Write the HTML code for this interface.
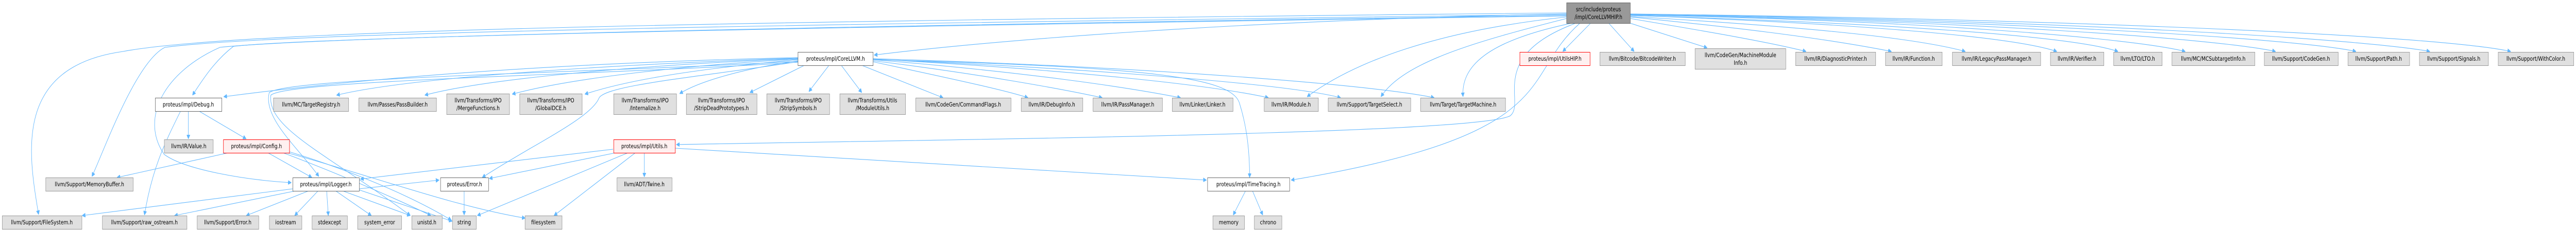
<!DOCTYPE html>
<html><head><meta charset="utf-8"><style>
html,body{margin:0;padding:0;background:#fff;width:100vw;height:100vh;overflow:hidden}
svg{display:block;position:absolute;left:0;top:0;width:100vw;height:100vh}
text{font-family:"DejaVu Sans","Liberation Sans",sans-serif;font-size:11.5px;fill:#000;text-anchor:middle}
.g{fill:#e0e0e0;stroke:#999;stroke-width:1}
.w{fill:#fff;stroke:#666;stroke-width:1}
.r{fill:#fff0f0;stroke:#f00;stroke-width:1}
.k{fill:#999;stroke:#666;stroke-width:1}
path{fill:none;stroke:#63b8ff;stroke-width:1.1}
</style></head><body>
<svg viewBox="0 0 6277 447" preserveAspectRatio="none" xmlns="http://www.w3.org/2000/svg">
<defs><marker id="a" viewBox="0 0 10 10" refX="10" refY="5" markerWidth="8" markerHeight="8" orient="auto" markerUnits="userSpaceOnUse"><path d="M0,0 L10,5 L0,10 z" style="fill:#63b8ff;stroke:#63b8ff"/></marker></defs>
<g marker-end="url(#a)">
<path d="M3817,27 C3000,40 2400,80 2130,107"/>
<path d="M3817,33 C3500,60 3300,120 3185,188"/>
<path d="M3817,36 C3600,80 3420,120 3365,188"/>
<path d="M3830,45 C3620,80 3560,130 3565,188"/>
<path d="M3840,45 C3620,110 3720,200 3680,225 C3600,260 2400,270 1648,281"/>
<path d="M3850,45 C3700,150 3820,260 3146,350"/>
<path d="M3876,45 L3808,100"/>
<path d="M3920,45 L3982,100"/>
<path d="M3972,45 L4160,93"/>
<path d="M3973,36 C4150,60 4300,80 4401,100"/>
<path d="M3973,33 C4250,55 4450,75 4609,100"/>
<path d="M3973,32 C4350,50 4650,70 4789,100"/>
<path d="M3973,30 C4500,45 4900,70 5012,100"/>
<path d="M3973,30 C4600,45 5050,70 5161,100"/>
<path d="M3973,29 C4700,40 5200,75 5325,100"/>
<path d="M3973,29 C4800,40 5400,75 5545,100"/>
<path d="M3973,28 C4900,40 5600,75 5741,100"/>
<path d="M3973,28 C5000,38 5750,75 5921,100"/>
<path d="M3973,27 C5100,38 5950,70 6118,100"/>
<path d="M3817,25 C2000,40 600,55 300,100 C30,130 70,300 94,417"/>
<path d="M3817,28 C2200,45 700,60 402,92 C330,120 250,300 224,343"/>
<path d="M3817,30 C2200,48 800,70 536,92 C400,140 340,230 400,300 C450,330 600,350 710,355"/>
<path d="M3817,31 C2200,50 800,70 569,90 C520,120 490,160 469,185"/>
<path d="M1944,112 C1500,120 1000,140 545,188"/>
<path d="M1944,113 C1500,125 1000,150 820,185"/>
<path d="M1944,114 C1600,125 1200,150 1035,185"/>
<path d="M1944,115 C1700,125 1400,150 1248,183"/>
<path d="M1944,116 C1750,130 1550,150 1425,183"/>
<path d="M1944,118 C1800,135 1700,160 1656,182"/>
<path d="M1960,127 L1827,180"/>
<path d="M2020,127 L1971,178"/>
<path d="M2050,127 L2100,180"/>
<path d="M2100,127 L2298,190"/>
<path d="M2127,120 C2300,150 2450,175 2505,190"/>
<path d="M2127,118 C2400,145 2600,175 2686,190"/>
<path d="M2127,116 C2500,140 2750,170 2877,190"/>
<path d="M2127,115 C2600,135 2950,165 3091,190"/>
<path d="M2127,115 C2700,135 3150,165 3267,190"/>
<path d="M2127,114 C2800,130 3350,165 3495,190"/>
<path d="M2127,116 C2800,130 3000,150 3020,200 C3040,250 3045,300 3045,345"/>
<path d="M1944,120 C1700,150 1480,165 1460,190 C1440,230 1300,280 1175,345"/>
<path d="M1944,119 C1500,140 700,150 656,180 C640,230 730,290 777,343"/>
<path d="M1944,121 C1500,145 700,155 660,185 C650,250 800,300 1000,419"/>
<path d="M1494,290 L878,348"/>
<path d="M1500,297 L1192,347"/>
<path d="M1530,297 L1163,419"/>
<path d="M1548,297 L1350,419"/>
<path d="M1570,297 L1570,344"/>
<path d="M1645,288 L2940,350"/>
<path d="M459,216 L459,270"/>
<path d="M485,216 L600,270"/>
<path d="M440,216 C400,280 370,330 352,418"/>
<path d="M556,297 L285,345"/>
<path d="M653,297 L760,345"/>
<path d="M690,297 C800,330 950,380 1050,419"/>
<path d="M705,295 C850,330 1000,380 1100,428"/>
<path d="M700,297 C900,340 1100,400 1280,424"/>
<path d="M713,367 L200,419"/>
<path d="M720,371 L425,419"/>
<path d="M752,371 L600,419"/>
<path d="M775,371 L718,419"/>
<path d="M796,371 L800,419"/>
<path d="M818,371 L905,419"/>
<path d="M835,371 L1000,419"/>
<path d="M875,369 L1102,430"/>
<path d="M875,367 L1070,350"/>
<path d="M1131,371 L1131,418"/>
<path d="M3035,371 L3005,418"/>
<path d="M3052,371 L3077,418"/>
</g>
<g>
<rect class="k" x="3817.5" y="5.5" width="155" height="40"/><text x="3895" y="22">src/include/proteus</text><text x="3895" y="37">/impl/CoreLLVMHIP.h</text>
<rect class="w" x="1944.5" y="101.5" width="183" height="26"/><text x="2036" y="118">proteus/impl/CoreLLVM.h</text>
<rect class="r" x="3703.5" y="101.5" width="171" height="26"/><text x="3789" y="118">proteus/impl/UtilsHIP.h</text>
<rect class="g" x="3898.5" y="101.5" width="208" height="26"/><text x="4002" y="118">llvm/Bitcode/BitcodeWriter.h</text>
<rect class="g" x="4130.5" y="94.5" width="221" height="40"/><text x="4241" y="111">llvm/CodeGen/MachineModule</text><text x="4241" y="126">Info.h</text>
<rect class="g" x="4375.5" y="101.5" width="195" height="26"/><text x="4473" y="118">llvm/IR/DiagnosticPrinter.h</text>
<rect class="g" x="4594.5" y="101.5" width="138" height="26"/><text x="4663" y="118">llvm/IR/Function.h</text>
<rect class="g" x="4757.5" y="101.5" width="215" height="26"/><text x="4865" y="118">llvm/IR/LegacyPassManager.h</text>
<rect class="g" x="4996.5" y="101.5" width="130" height="26"/><text x="5061" y="118">llvm/IR/Verifier.h</text>
<rect class="g" x="5150.5" y="101.5" width="118" height="26"/><text x="5209" y="118">llvm/LTO/LTO.h</text>
<rect class="g" x="5292.5" y="101.5" width="202" height="26"/><text x="5393" y="118">llvm/MC/MCSubtargetInfo.h</text>
<rect class="g" x="5517.5" y="101.5" width="180" height="26"/><text x="5607" y="118">llvm/Support/CodeGen.h</text>
<rect class="g" x="5721.5" y="101.5" width="150" height="26"/><text x="5796" y="118">llvm/Support/Path.h</text>
<rect class="g" x="5895.5" y="101.5" width="168" height="26"/><text x="5979" y="118">llvm/Support/Signals.h</text>
<rect class="g" x="6087.5" y="101.5" width="184" height="26"/><text x="6179" y="118">llvm/Support/WithColor.h</text>

<rect class="w" x="378.5" y="190.5" width="162" height="26"/><text x="459" y="207">proteus/impl/Debug.h</text>
<rect class="g" x="666.5" y="190.5" width="183" height="26"/><text x="758" y="207">llvm/MC/TargetRegistry.h</text>
<rect class="g" x="874.5" y="190.5" width="189" height="26"/><text x="969" y="207">llvm/Passes/PassBuilder.h</text>
<rect class="g" x="1088.5" y="182.5" width="153" height="40"/><text x="1165" y="199">llvm/Transforms/IPO</text><text x="1165" y="214">/MergeFunctions.h</text>
<rect class="g" x="1266.5" y="182.5" width="152" height="40"/><text x="1342" y="199">llvm/Transforms/IPO</text><text x="1342" y="214">/GlobalDCE.h</text>
<rect class="g" x="1495.5" y="182.5" width="153" height="40"/><text x="1572" y="199">llvm/Transforms/IPO</text><text x="1572" y="214">/Internalize.h</text>
<rect class="g" x="1672.5" y="182.5" width="172" height="40"/><text x="1758" y="199">llvm/Transforms/IPO</text><text x="1758" y="214">/StripDeadPrototypes.h</text>
<rect class="g" x="1868.5" y="182.5" width="153" height="40"/><text x="1945" y="199">llvm/Transforms/IPO</text><text x="1945" y="214">/StripSymbols.h</text>
<rect class="g" x="2046.5" y="182.5" width="160" height="40"/><text x="2126" y="199">llvm/Transforms/Utils</text><text x="2126" y="214">/ModuleUtils.h</text>
<rect class="g" x="2231.5" y="190.5" width="232" height="26"/><text x="2347" y="207">llvm/CodeGen/CommandFlags.h</text>
<rect class="g" x="2488.5" y="190.5" width="150" height="26"/><text x="2563" y="207">llvm/IR/DebugInfo.h</text>
<rect class="g" x="2663.5" y="190.5" width="169" height="26"/><text x="2748" y="207">llvm/IR/PassManager.h</text>
<rect class="g" x="2856.5" y="190.5" width="148" height="26"/><text x="2930" y="207">llvm/Linker/Linker.h</text>
<rect class="g" x="3080.5" y="190.5" width="132" height="26"/><text x="3146" y="207">llvm/IR/Module.h</text>
<rect class="g" x="3236.5" y="190.5" width="201" height="26"/><text x="3337" y="207">llvm/Support/TargetSelect.h</text>
<rect class="g" x="3461.5" y="190.5" width="207" height="26"/><text x="3565" y="207">llvm/Target/TargetMachine.h</text>

<rect class="g" x="400.5" y="271.5" width="119" height="26"/><text x="460" y="288">llvm/IR/Value.h</text>
<rect class="r" x="544.5" y="271.5" width="161" height="26"/><text x="625" y="288">proteus/impl/Config.h</text>
<rect class="r" x="1495.5" y="271.5" width="150" height="26"/><text x="1570" y="288">proteus/impl/Utils.h</text>

<rect class="g" x="111.5" y="345.5" width="213" height="26"/><text x="218" y="362">llvm/Support/MemoryBuffer.h</text>
<rect class="w" x="713.5" y="345.5" width="162" height="26"/><text x="794" y="362">proteus/impl/Logger.h</text>
<rect class="w" x="1073.5" y="345.5" width="117" height="26"/><text x="1132" y="362">proteus/Error.h</text>
<rect class="g" x="1503.5" y="345.5" width="134" height="26"/><text x="1570" y="362">llvm/ADT/Twine.h</text>
<rect class="w" x="2942.5" y="345.5" width="200" height="26"/><text x="3042" y="362">proteus/impl/TimeTracing.h</text>

<rect class="g" x="5.5" y="419.5" width="194" height="26"/><text x="102" y="436">llvm/Support/FileSystem.h</text>
<rect class="g" x="249.5" y="419.5" width="206" height="26"/><text x="352" y="436">llvm/Support/raw_ostream.h</text>
<rect class="g" x="480.5" y="419.5" width="150" height="26"/><text x="555" y="436">llvm/Support/Error.h</text>
<rect class="g" x="656.5" y="419.5" width="79" height="26"/><text x="696" y="436">iostream</text>
<rect class="g" x="760.5" y="419.5" width="86" height="26"/><text x="803" y="436">stdexcept</text>
<rect class="g" x="871.5" y="419.5" width="107" height="26"/><text x="925" y="436">system_error</text>
<rect class="g" x="1003.5" y="419.5" width="74" height="26"/><text x="1040" y="436">unistd.h</text>
<rect class="g" x="1102.5" y="419.5" width="58" height="26"/><text x="1131" y="436">string</text>
<rect class="g" x="1279.5" y="419.5" width="90" height="26"/><text x="1324" y="436">filesystem</text>
<rect class="g" x="2955.5" y="419.5" width="77" height="26"/><text x="2994" y="436">memory</text>
<rect class="g" x="3056.5" y="419.5" width="67" height="26"/><text x="3090" y="436">chrono</text>
</g>
</svg>
</body></html>
